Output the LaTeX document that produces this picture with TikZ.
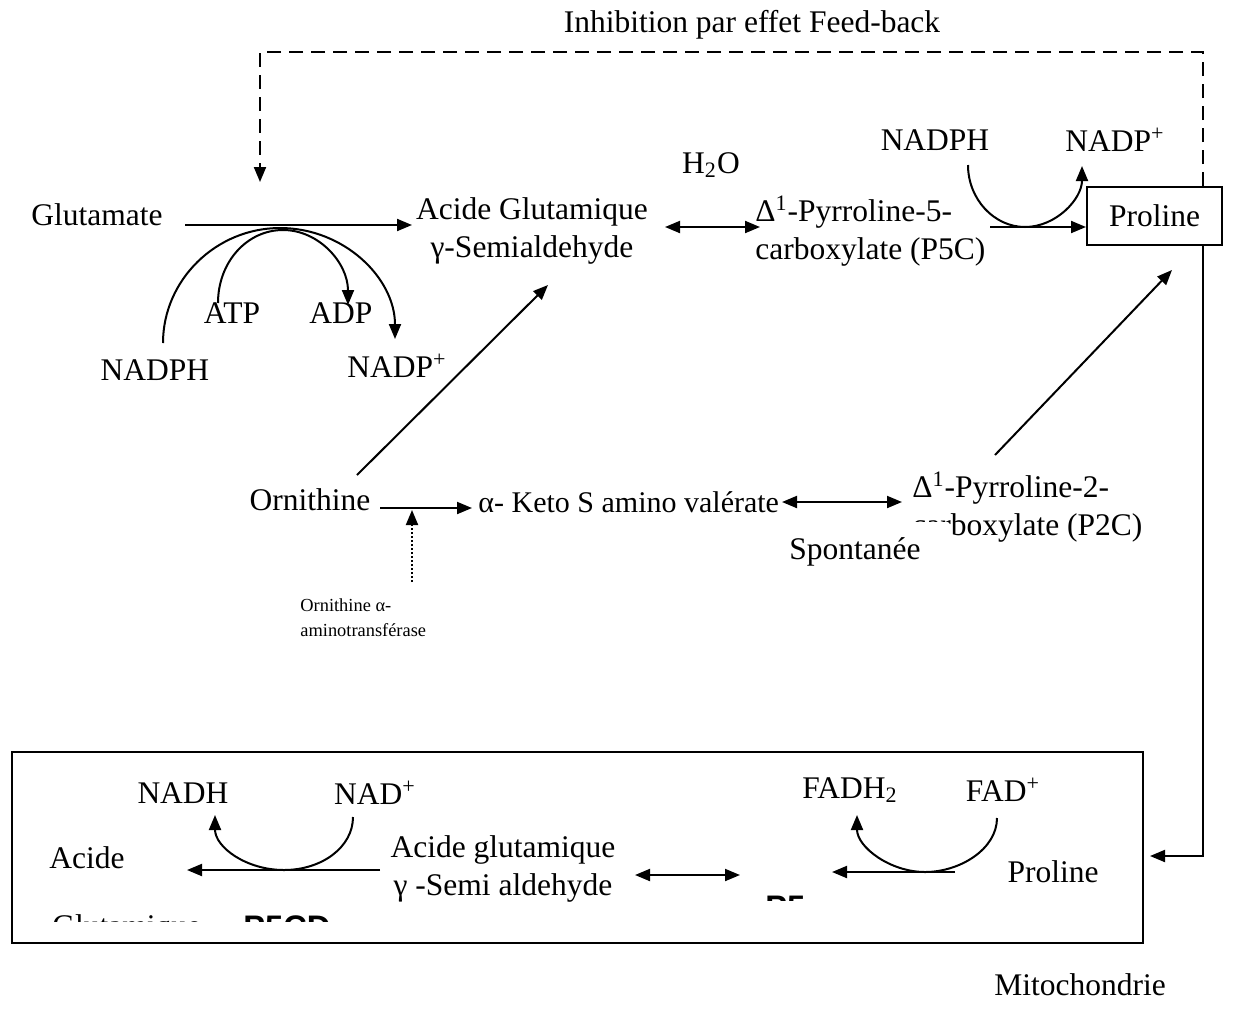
\documentclass[tikz,border=0pt]{standalone}
\usepackage{fontspec}
\setmainfont{Liberation Serif}
\newfontfamily\labsans{Liberation Sans}
\usetikzlibrary{arrows.meta}
\begin{document}
\begin{tikzpicture}[x=0.5pt,y=-0.5pt,
  every node/.style={inner sep=0pt},
  lbl/.style={font=\fontsize{15.75}{19}\selectfont},
  sml/.style={font=\fontsize{9.2}{12.5}\selectfont},
  enz/.style={font=\fontsize{16.3}{19}\labsans\bfseries},
  ln/.style={line width=1pt},
  tip/.style={-{Triangle[length=7.5pt,width=6pt]}},
  bitip/.style={{Triangle[length=7.5pt,width=6pt]}-{Triangle[length=7.5pt,width=6pt]}},
  fb/.style={ln,dash pattern=on 7pt off 4pt},
]
\useasboundingbox (0,0) rectangle (1248,1019);

% ---------- cytosolic pathway ----------
\node[lbl] (title) at (752,25) {Inhibition par effet Feed-back};
\node[lbl] (glu) at (97,215) {Glutamate};
\node[lbl,align=center] (ags) at (532,231) {Acide Glutamique\\γ-Semialdehyde};
\node[lbl] (h2o) at (711,165) {H\textsubscript{2}O};
\node[lbl,align=left,anchor=west] (p5c) at (755,231) {Δ\textsuperscript{1}-Pyrroline-5-\\carboxylate (P5C)};
\node[lbl] (nadphB) at (935,140) {NADPH};
\node[lbl] (nadpB) at (1115,140) {NADP\textsuperscript{+}};
\node[lbl,draw,ln,minimum width=67.5pt,minimum height=29pt] (pro) at (1154.5,216) {Proline};

\node[lbl] (atp) at (232,313) {ATP};
\node[lbl] (adp) at (341,313) {ADP};
\node[lbl] (nadphA) at (155,370) {NADPH};
\node[lbl] (nadpA) at (397,366) {NADP\textsuperscript{+}};

% Glutamate -> GSA with cofactor arcs
\coordinate (g0) at (185,225);
\coordinate (g1) at (412,225);
\draw[ln,tip] (g0) -- (g1);
\coordinate (atpS) at (218,303);
\coordinate (adpE) at (348,305);
\coordinate (nadphS) at (163,343);
\coordinate (nadpE) at (395,339);
\draw[ln,tip] (atpS) .. controls (218,262) and (247,230) .. (283,230)
  .. controls (319,230) and (348,263) .. (adpE);
\draw[ln,tip] (nadphS) .. controls (163,280) and (216,228) .. (280,228)
  .. controls (344,228) and (395,278) .. (nadpE);

% GSA <-> P5C
\coordinate (e0) at (665,227);
\coordinate (e1) at (760,227);
\draw[ln,bitip] (e0) -- (e1);

% P5C -> Proline with NADPH arc
\coordinate (k0) at (990,227);
\draw[ln,tip] (k0) -- (pro.west |- k0);
\coordinate (kS) at (968,165);
\coordinate (kE) at (1082,166);
\draw[ln,tip] (kS) .. controls (968,199) and (994,227) .. (1025,227)
  .. controls (1056,227) and (1082,199) .. (kE);

% feed-back inhibition
\coordinate (fbA) at (1203,52);
\coordinate (fbB) at (260,52);
\coordinate (fbC) at (260,182);
\draw[fb,tip] (pro.north -| fbA) -- (fbA) -- (fbB) -- (fbC);

% ornithine route
\node[lbl] (orn) at (310,500) {Ornithine};
\node[anchor=west,font=\fontsize{15}{19}\selectfont] (keto) at (478,502) {α- Keto S amino valérate};
\coordinate (o0) at (380,508);
\coordinate (o1) at (472,508);
\draw[ln,tip] (o0) -- (o1);
\coordinate (oatT) at (412,510);
\coordinate (oatB) at (412,582);
\draw[line width=1pt,densely dotted,tip] (oatB) -- (oatT);
\node[sml,align=left,anchor=west] (oat) at (300,618) {Ornithine α-\\aminotransférase};

\coordinate (d0) at (357,475);
\coordinate (d1) at (548,285);
\draw[ln,tip] (d0) -- (d1);

\coordinate (s0) at (782,502);
\coordinate (s1) at (902,502);
\draw[ln,bitip] (s0) -- (s1);
\node[lbl,align=left,anchor=west] (p2c) at (912,507) {Δ\textsuperscript{1}-Pyrroline-2-\\carboxylate (P2C)};
\fill[white] (783,522) rectangle (948,580);
\node[lbl] (spont) at (855,552) {Spontanée};

\coordinate (q0) at (995,455);
\coordinate (q1) at (1172,270);
\draw[ln,tip] (q0) -- (q1);

% proline into the mitochondrion
\coordinate (m0) at (1203,856);
\coordinate (m1) at (1150,856);
\draw[ln,tip] (pro.south -| m0) -- (m0) -- (m1);

% ---------- mitochondrion ----------
\draw[ln] (12,752) rectangle (1143,943);
\node[lbl] (acide) at (87,858) {Acide};
\begin{scope}
  \clip (0,880) rectangle (700,921);
  \node[lbl,anchor=base west] (glq) at (52,936) {Glutamique};
  \node[enz,anchor=base west] (p5cd) at (243,938) {P5CD};
\end{scope}
\begin{scope}
  \clip (700,880) rectangle (810,900);
  \node[enz,anchor=base west] (p5) at (765,918) {P5};
\end{scope}

\node[lbl] (nadh) at (183,793) {NADH};
\node[lbl] (nad) at (375,793) {NAD\textsuperscript{+}};
\node[lbl,align=center] (ags2) at (503,869) {Acide glutamique\\γ -Semi aldehyde};
\node[lbl] (fadh) at (850,790) {FADH\textsubscript{2}};
\node[lbl] (fad) at (1003,790) {FAD\textsuperscript{+}};
\node[lbl] (pro2) at (1053,872) {Proline};
\node[lbl] (mit) at (1080,985) {Mitochondrie};

\coordinate (b0) at (380,870);
\coordinate (b1) at (187,870);
\draw[ln,tip] (b0) -- (b1);
\coordinate (bS) at (353,817);
\coordinate (bE) at (215,815);
\draw[ln,tip] (bS) .. controls (353,847) and (322,870) .. (284,870)
  .. controls (246,870) and (215,847) .. (bE);

\coordinate (c0) at (635,875);
\coordinate (c1) at (740,875);
\draw[ln,bitip] (c0) -- (c1);

\coordinate (f0) at (955,872);
\coordinate (f1) at (832,872);
\draw[ln,tip] (f0) -- (f1);
\coordinate (fS) at (997,818);
\coordinate (fE) at (857,815);
\draw[ln,tip] (fS) .. controls (997,849) and (960,872) .. (925,872)
  .. controls (890,872) and (857,847) .. (fE);
\end{tikzpicture}
\end{document}
